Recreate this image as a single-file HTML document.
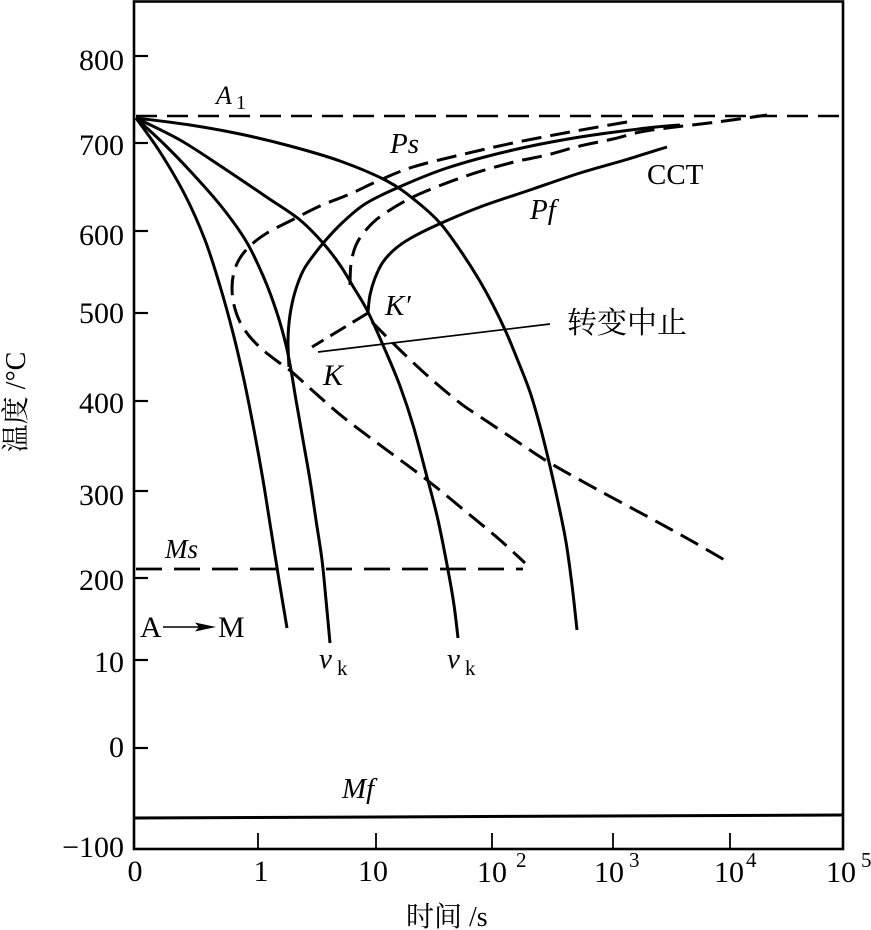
<!DOCTYPE html>
<html>
<head>
<meta charset="utf-8">
<style>
  html,body{margin:0;padding:0;background:#fff;}
  svg{display:block;}
  text{font-family:"Liberation Serif","Noto Serif CJK SC",serif;fill:#000;}
  .cjk{font-family:"Liberation Serif","Noto Serif CJK SC","Noto Sans CJK SC",serif;}
  .it{font-style:italic;}
</style>
</head>
<body>
<svg id="chart" width="871" height="930" viewBox="0 0 871 930" xmlns="http://www.w3.org/2000/svg">
  <rect x="0" y="0" width="871" height="930" fill="#fff"/>

  <!-- frame -->
  <rect x="134" y="1.5" width="709" height="847.5" fill="none" stroke="#000" stroke-width="2.6"/>

  <!-- y ticks -->
  <g stroke="#000" stroke-width="2.2">
    <line x1="134" y1="56" x2="148" y2="56"/>
    <line x1="134" y1="143" x2="148" y2="143"/>
    <line x1="134" y1="231" x2="148" y2="231"/>
    <line x1="134" y1="313" x2="148" y2="313"/>
    <line x1="134" y1="401" x2="148" y2="401"/>
    <line x1="134" y1="491" x2="148" y2="491"/>
    <line x1="134" y1="578" x2="148" y2="578"/>
    <line x1="134" y1="660" x2="148" y2="660"/>
    <line x1="134" y1="748" x2="148" y2="748"/>
  </g>
  <!-- x ticks -->
  <g stroke="#000" stroke-width="1.8">
    <line x1="258" y1="849" x2="258" y2="833"/>
    <line x1="376" y1="849" x2="376" y2="833"/>
    <line x1="492" y1="849" x2="492" y2="833"/>
    <line x1="613" y1="849" x2="613" y2="833"/>
    <line x1="730" y1="849" x2="730" y2="833"/>
  </g>

  <!-- y tick labels -->
  <g font-size="30" text-anchor="end">
    <text x="124" y="70">800</text>
    <text x="124" y="155">700</text>
    <text x="124" y="245">600</text>
    <text x="124" y="323">500</text>
    <text x="124" y="413">400</text>
    <text x="124" y="505">300</text>
    <text x="124" y="590">200</text>
    <text x="124" y="672">10</text>
    <text x="124" y="757">0</text>
    <text x="124" y="857">−100</text>
  </g>

  <!-- x tick labels -->
  <g font-size="30">
    <text x="135" y="881" text-anchor="middle">0</text>
    <text x="261" y="881" text-anchor="middle">1</text>
    <text x="373" y="881" text-anchor="middle">10</text>
    <text x="477" y="882">10</text><text x="516" y="867" font-size="21">2</text>
    <text x="594" y="882">10</text><text x="629" y="867" font-size="21">3</text>
    <text x="714" y="882">10</text><text x="746" y="867" font-size="21">4</text>
    <text x="826" y="882">10</text><text x="861" y="867" font-size="21">5</text>
  </g>

  <!-- axis titles -->
  <text class="cjk" x="406" y="926" font-size="28">时间 /s</text>
  <text class="cjk" font-size="28" text-anchor="middle" transform="translate(25,402) rotate(-90)">温度 /°C</text>

  <!-- A1 line -->
  <line x1="136" y1="116" x2="843" y2="116" stroke="#000" stroke-width="2.6" stroke-dasharray="21 10"/>
  <!-- Ms line -->
  <line x1="136" y1="569" x2="523" y2="569" stroke="#000" stroke-width="2.8" stroke-dasharray="26 12"/>
  <!-- Mf line -->
  <line x1="134" y1="818" x2="843" y2="815" stroke="#000" stroke-width="3"/>

  <g fill="none" stroke="#000" stroke-width="3" stroke-linejoin="round" stroke-linecap="butt">
    <!-- cooling curve 1 -->
    <polyline class="sm" points="136,118 160,152 185,195 205,240 220,286 233,333 244,380 254,430 263,480 271,530 279,580 287,628"/>
    <!-- cooling curve 2 -->
    <polyline class="sm" points="136,118 165,145 192,173 221,206 246,241 264,278 277,313 286,345 291,370 296,400 303,440 310,480 316,520 322,560 326,600 330,643"/>
    <!-- cooling curve 3 -->
    <polyline class="sm" points="136,118 180,140 222,167 268,198 300,220 323,243 340,265 354,288 368,312 386,352 400,386 413,425 427,477 438,520 448,570 454,605 458,638"/>
    <!-- cooling curve 4 -->
    <polyline class="sm" points="136,118 190,125 240,134 290,146 340,161 387,181 416,201 440,223 460,250 478,278 493,305 506,332 518,361 530,392 540,426 549,462 558,502 566,542 572,585 577,630"/>

    <!-- solid Ps C -->
    <polyline class="sm" points="289,367 288,340 290,315 295,292 303,271 313,256 325,241 342,223 365,204 397,188 447,168 513,150 580,137 647,128 680,125"/>
    <!-- Pf solid -->
    <polyline class="sm" points="368,312 370,295 375,278 383,262 395,249 411,238 437,225 480,207 530,190 580,173 625,160 667,147"/>
  </g>

  <g fill="none" stroke="#000" stroke-width="3" stroke-linejoin="round" stroke-dasharray="20 9">
    <!-- Ps outer dashed C + lower diagonal -->
    <polyline class="sm" points="627,122 570,132 513,143 460,155 413,167 380,180 350,194 320,206 292,220 267,233 251,245 240,258 234,272 232,288 234,305 240,322 250,337 263,350 277,361 292,372 313,391 343,417 380,445 427,480 470,515 500,540 525,563"/>
    <!-- inner dashed C -->
    <polyline class="sm" points="350,285 351,264 356,245 366,230 381,216 413,197 463,177 510,163 547,155 580,146 613,139 640,132 667,128 717,122 767,115"/>
    <!-- lower right dashed -->
    <polyline class="sm" points="372,322 400,350 430,378 460,403 482,418 515,440 550,463 600,491 650,518 690,540 728,562"/>
    <!-- K'-K dashed -->
    <polyline points="368,313 340,330 312,347" stroke-dasharray="18 8"/>
  </g>

  <!-- leader line -->
  <line x1="318" y1="352" x2="550" y2="324" stroke="#000" stroke-width="1.7"/>

  <!-- A -> M arrow -->
  <line x1="163" y1="627" x2="202" y2="627" stroke="#000" stroke-width="1.6"/>
  <polygon points="195,622.5 216,627 195,631.5 199,627" fill="#000"/>

  <!-- labels -->
  <text class="it" x="216" y="104" font-size="26">A</text>
  <text x="236" y="109" font-size="20">1</text>
  <text class="it" x="390" y="153" font-size="29">Ps</text>
  <text x="647" y="184" font-size="29">CCT</text>
  <text class="it" x="530" y="219" font-size="29">Pf</text>
  <text class="it" x="385" y="315" font-size="29">K′</text>
  <text class="it" x="323" y="385" font-size="30">K</text>
  <text class="cjk" x="567" y="333" font-size="30">转变中止</text>
  <text class="it" x="165" y="558" font-size="27">Ms</text>
  <text x="140" y="637" font-size="30">A</text>
  <text x="218" y="637" font-size="30">M</text>
  <text class="it" x="319" y="668" font-size="29">v</text>
  <text x="337" y="675" font-size="21">k</text>
  <text class="it" x="447" y="668" font-size="29">v</text>
  <text x="465" y="675" font-size="21">k</text>
  <text class="it" x="342" y="798" font-size="29">Mf</text>
</svg>
<script>
(function(){
  var ns="http://www.w3.org/2000/svg";
  var pls=document.querySelectorAll("polyline.sm");
  for(var i=0;i<pls.length;i++){
    var pl=pls[i];
    var raw=pl.getAttribute("points").trim().split(/\s+/);
    var P=raw.map(function(s){var a=s.split(",");return [parseFloat(a[0]),parseFloat(a[1])];});
    var d="M"+P[0][0]+","+P[0][1];
    for(var k=0;k<P.length-1;k++){
      var p0=P[k>0?k-1:0],p1=P[k],p2=P[k+1],p3=P[k+2<P.length?k+2:P.length-1];
      var c1x=p1[0]+(p2[0]-p0[0])/6,c1y=p1[1]+(p2[1]-p0[1])/6;
      var c2x=p2[0]-(p3[0]-p1[0])/6,c2y=p2[1]-(p3[1]-p1[1])/6;
      d+=" C"+c1x.toFixed(2)+","+c1y.toFixed(2)+" "+c2x.toFixed(2)+","+c2y.toFixed(2)+" "+p2[0]+","+p2[1];
    }
    var path=document.createElementNS(ns,"path");
    for(var j=0;j<pl.attributes.length;j++){
      var at=pl.attributes[j];
      if(at.name!=="points"&&at.name!=="class")path.setAttribute(at.name,at.value);
    }
    path.setAttribute("d",d);
    pl.parentNode.replaceChild(path,pl);
  }
})();
</script>
</body>
</html>
